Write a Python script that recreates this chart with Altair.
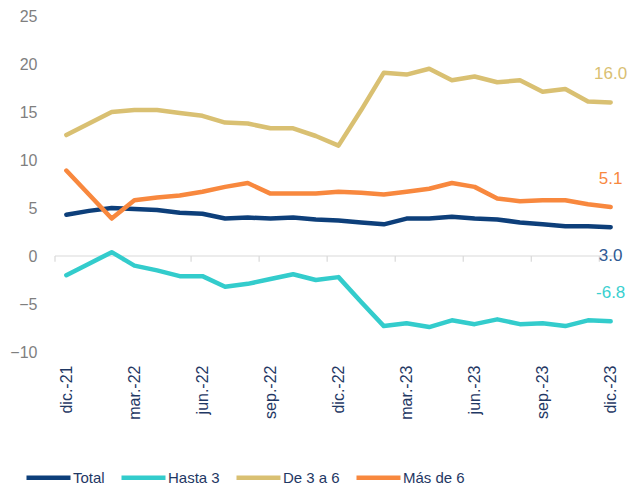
import altair as alt
import pandas as pd

months = ["dic.-21", "ene.-22", "feb.-22", "mar.-22", "abr.-22", "may.-22", "jun.-22",
          "jul.-22", "ago.-22", "sep.-22", "oct.-22", "nov.-22", "dic.-22", "ene.-23",
          "feb.-23", "mar.-23", "abr.-23", "may.-23", "jun.-23", "jul.-23", "ago.-23",
          "sep.-23", "oct.-23", "nov.-23", "dic.-23"]

total = [4.3, 4.7, 5.0, 4.9, 4.8, 4.5, 4.4, 3.9, 4.0, 3.9, 4.0, 3.8, 3.7, 3.5, 3.3,
         3.9, 3.9, 4.1, 3.9, 3.8, 3.5, 3.3, 3.1, 3.1, 3.0]
hasta3 = [-2.0, -0.8, 0.4, -1.0, -1.5, -2.1, -2.1, -3.2, -2.9, -2.4, -1.9, -2.5, -2.2,
          -4.8, -7.3, -7.0, -7.4, -6.7, -7.1, -6.6, -7.1, -7.0, -7.3, -6.7, -6.8]
de3a6 = [12.6, 13.8, 15.0, 15.2, 15.2, 14.9, 14.6, 13.9, 13.8, 13.3, 13.3, 12.5, 11.5,
         15.2, 19.1, 18.9, 19.5, 18.3, 18.7, 18.1, 18.3, 17.1, 17.4, 16.1, 16.0]
mas6 = [8.9, 6.4, 3.9, 5.8, 6.1, 6.3, 6.7, 7.2, 7.6, 6.5, 6.5, 6.5, 6.7, 6.6, 6.4,
        6.7, 7.0, 7.6, 7.2, 6.0, 5.7, 5.8, 5.8, 5.4, 5.1]

series_names = ["Total", "Hasta 3", "De 3 a 6", "Más de 6"]
series_values = [total, hasta3, de3a6, mas6]
line_colors = ["#0d3f7a", "#33cccc", "#d9c072", "#f8883e"]
label_colors = ["#2f5a94", "#3ad0d0", "#d9c072", "#f8883e"]

rows = []
for name, vals in zip(series_names, series_values):
    for i, v in enumerate(vals):
        rows.append({"i": i, "mes": months[i], "serie": name, "valor": v})
df = pd.DataFrame(rows)

last = df[df["i"] == len(months) - 1].copy()
last["lbl"] = last["valor"].map(lambda v: f"{v:.1f}")
last["lcolor"] = last["serie"].map(dict(zip(series_names, label_colors)))

ticks_df = pd.DataFrame({"t": [k - 0.5 for k in range(0, len(months), 3)]})
zero_df = pd.DataFrame({"a": [-0.5], "b": [len(months) - 0.5], "y": [0]})

label_arr = "[" + ",".join(f"'{m}'" for m in months) + "]"

xscale = alt.Scale(domain=[-0.5, len(months) - 0.5], nice=False, zero=False)
yscale = alt.Scale(domain=[-10, 25], nice=False)

x_axis = alt.Axis(values=list(range(0, len(months), 3)),
                  labelExpr=label_arr + "[datum.value]",
                  labelAngle=-90, labelAlign="right", labelBaseline="middle",
                  labelPadding=13, labelFontSize=16, labelColor="#1f3864",
                  labelFont="Liberation Sans",
                  domain=False, ticks=False, grid=False, title=None)
y_axis = alt.Axis(values=list(range(-10, 26, 5)), labelFontSize=16,
                  labelColor="#7f7f7f", labelFont="Liberation Sans",
                  labelPadding=18, domain=False, ticks=False, grid=False,
                  title=None)

zero = alt.Chart(zero_df).mark_rule(color="#d9d9d9", strokeWidth=1.2).encode(
    x=alt.X("a:Q", scale=xscale, axis=x_axis), x2="b:Q",
    y=alt.Y("y:Q", scale=yscale, axis=y_axis))

ticks = alt.Chart(ticks_df).mark_rule(color="#d9d9d9", strokeWidth=1.2).encode(
    x=alt.X("t:Q", scale=xscale),
    y=alt.datum(0, scale=yscale), y2=alt.datum(-0.6))

lines = alt.Chart(df).mark_line(strokeWidth=4.5, strokeCap="round", strokeJoin="round").encode(
    x=alt.X("i:Q", scale=xscale),
    y=alt.Y("valor:Q", scale=yscale),
    color=alt.Color("serie:N", sort=series_names,
                    scale=alt.Scale(domain=series_names, range=line_colors),
                    legend=alt.Legend(title=None, orient="none", direction="horizontal",
                                      legendX=-31, legendY=437,
                                      symbolType="stroke", symbolSize=1936,
                                      symbolStrokeWidth=4.5, labelFontSize=15,
                                      labelColor="#1f3864", labelFont="Liberation Sans",
                                      labelOffset=0, columnPadding=7)),
    order="i:Q")

up = alt.Chart(last[last["serie"] != "Total"]).mark_text(
    fontSize=17, font="Liberation Sans", dy=-28).encode(
    x=alt.X("i:Q", scale=xscale), y=alt.Y("valor:Q", scale=yscale),
    text="lbl:N", color=alt.Color("lcolor:N", scale=None))

down = alt.Chart(last[last["serie"] == "Total"]).mark_text(
    fontSize=17, font="Liberation Sans", dy=29).encode(
    x=alt.X("i:Q", scale=xscale), y=alt.Y("valor:Q", scale=yscale),
    text="lbl:N", color=alt.Color("lcolor:N", scale=None))

chart = alt.layer(zero, ticks, lines, up, down).properties(
    width=567, height=336,
    padding={"left": 47, "top": 8, "right": 11, "bottom": 135},
    autosize=alt.AutoSizeParams(type="none"),
).configure_view(stroke=None)

chart.save("out.html", embed_options={"renderer": "svg", "actions": False})
